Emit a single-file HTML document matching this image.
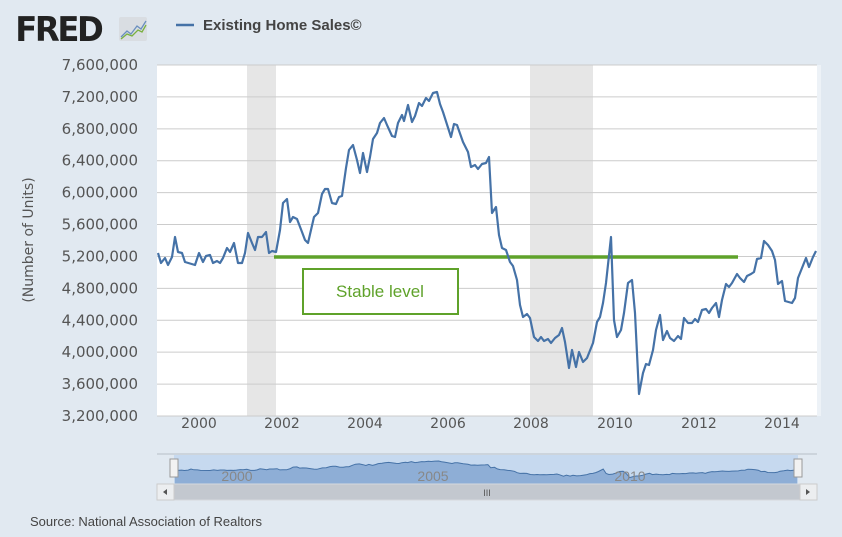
<!DOCTYPE html>
<html><head><meta charset="utf-8"><style>
body{margin:0;width:842px;height:537px;background:#e1e9f1;font-family:"Liberation Sans",sans-serif;overflow:hidden;position:relative}
</style></head><body>
<svg width="842" height="537" style="position:absolute;left:0;top:0">
<text x="16" y="41" font-size="34" font-weight="bold" fill="#222" letter-spacing="-2.5" font-family="DejaVu Sans" transform="scale(0.95,1)">FRED</text>
<rect x="119" y="17" width="28" height="24" fill="#d9dde2" rx="2"/>
<polyline points="121,37 127,31 131,34 137,26 141,29 146,21" fill="none" stroke="#6a8fbf" stroke-width="1.3"/>
<polyline points="121,39 127,34 132,36 138,30 142,32 146,25" fill="none" stroke="#7ab040" stroke-width="1.3"/>
<line x1="176" y1="25" x2="194" y2="25" stroke="#4572a7" stroke-width="2.5"/>
<text x="203" y="30" font-size="15" font-weight="bold" fill="#444">Existing Home Sales©</text>
<rect x="157" y="65" width="660" height="351" fill="#fff"/>
<rect x="817" y="65" width="4" height="351" fill="#edf2f7"/>
<rect x="247" y="65" width="29" height="351" fill="#e6e6e6"/>
<rect x="530" y="65" width="63" height="351" fill="#e6e6e6"/>
<g id="grid" stroke="#cccccc" stroke-width="1"></g>
<g id="ylab" font-size="15" fill="#555" text-anchor="end" font-family="DejaVu Sans"></g>
<g id="xlab" font-size="14" fill="#555" text-anchor="middle" font-family="DejaVu Sans"></g>
<text transform="translate(33,240) rotate(-90)" font-size="14" fill="#555" text-anchor="middle" font-family="DejaVu Sans">(Number of Units)</text>
<line x1="274" y1="257" x2="738" y2="257" stroke="#5fa22a" stroke-width="3.5"/>
<rect x="303" y="269" width="155" height="45" fill="#fff" stroke="#5fa22a" stroke-width="2"/>
<text x="380" y="297" font-size="17" fill="#5fa22a" text-anchor="middle">Stable level</text>
<polyline id="main" fill="none" stroke="#4572a7" stroke-width="2.2" stroke-linejoin="round"/>
<rect x="157" y="453" width="660" height="31" fill="#e1e9f1"/>
<line x1="157" y1="454" x2="817" y2="454" stroke="#b8bec6"/>
<rect x="174" y="455" width="624" height="29" fill="#c6d9ef"/>
<path id="navfill" fill="#8eaed6"/>
<polyline id="navline" fill="none" stroke="#4572a7" stroke-width="1"/>
<text x="237" y="481" font-size="14" fill="#888" text-anchor="middle">2000</text>
<text x="433" y="481" font-size="14" fill="#888" text-anchor="middle">2005</text>
<text x="630" y="481" font-size="14" fill="#888" text-anchor="middle">2010</text>
<rect x="170" y="459" width="8" height="18" fill="#f2f2f2" stroke="#999"/>
<rect x="794" y="459" width="8" height="18" fill="#f2f2f2" stroke="#999"/>
<rect x="157" y="484" width="660" height="16" fill="#c3c8cf" stroke="#d6d9dd"/>
<rect x="157" y="484" width="17" height="16" fill="#eceef0" stroke="#ccc"/>
<rect x="800" y="484" width="17" height="16" fill="#eceef0" stroke="#ccc"/>
<path d="M167,489 L163,492 L167,495Z" fill="#555"/>
<path d="M806,489 L810,492 L806,495Z" fill="#555"/>
<text x="487" y="496" font-size="9" fill="#555" text-anchor="middle">III</text>
<text x="30" y="526" font-size="13" fill="#444">Source: National Association of Realtors</text>
</svg>
<script>
var ns="http://www.w3.org/2000/svg";
function el(p,t,a,txt){var e=document.createElementNS(ns,t);for(var k in a)e.setAttribute(k,a[k]);if(txt)e.textContent=txt;document.getElementById(p).appendChild(e);}
for(var i=0;i<12;i++){var y=65+i*351/11;el("grid","line",{x1:157,x2:817,y1:y,y2:y});
var v=7600000-i*400000;el("ylab","text",{x:138,y:y+5},v.toLocaleString("en-US"));}
var xs=[199,282,365,448,531,615,699,782];
for(var j=0;j<8;j++)el("xlab","text",{x:xs[j],y:428},String(2000+2*j));
var P=[158,253,161,263,165,258,168,265,172,257,175,237,178,252,182,253,185,262,195,265,199,253,203,262,206,256,210,255,213,263,217,261,220,263,223,258,227,248,230,252,234,243,238,263,242,263,245,253,248,233,252,243,255,250,258,237,262,237,266,232,269,253,272,251,276,252,280,230,283,203,287,199,290,222,293,217,297,219,302,232,305,240,308,243,314,217,318,213,322,194,325,189,328,189,332,203,336,204,339,197,342,196,346,168,349,150,353,145,357,160,360,173,363,153,367,172,370,157,373,139,377,133,380,123,384,118,387,125,392,136,395,137,398,123,402,115,404,121,408,105,412,122,415,116,419,103,422,106,426,98,429,101,433,93,437,92,440,104,443,112,451,137,454,124,457,125,463,142,468,152,471,167,475,165,478,169,482,164,486,163,489,157,492,213,496,207,499,235,502,248,506,250,510,262,513,266,517,280,520,305,523,317,527,314,530,318,534,337,538,341,541,337,544,341,548,339,551,343,555,338,559,335,562,328,565,342,569,368,572,350,576,367,579,352,583,362,587,358,593,343,597,322,600,317,603,303,606,283,611,237,614,320,617,337,621,330,624,313,628,283,632,280,635,313,639,394,643,373,646,364,649,365,653,350,656,330,660,315,663,340,667,331,670,338,674,341,678,336,681,339,684,318,688,323,692,323,695,319,698,322,702,310,706,309,709,313,712,308,716,303,719,317,722,300,726,284,729,287,732,283,737,274,740,278,744,282,747,276,751,274,754,272,757,259,761,258,764,241,768,245,772,251,775,260,778,284,782,281,785,301,792,303,795,298,798,278,802,268,806,258,809,267,813,257,816,251];
var s="",n="";
for(var k=0;k<P.length;k+=2){s+=P[k]+","+P[k+1]+" ";
var nx=174+(P[k]-157)*624/660,ny=461+(P[k+1]-92)*0.055;n+=nx.toFixed(1)+","+ny.toFixed(1)+" ";}
document.getElementById("main").setAttribute("points",s);
document.getElementById("navline").setAttribute("points",n);
var pts=n.trim().split(" ");
document.getElementById("navfill").setAttribute("d","M"+pts[0].split(",")[0]+",484 L"+pts.join(" L")+" L"+pts[pts.length-1].split(",")[0]+",484Z");
</script>
</body></html>
